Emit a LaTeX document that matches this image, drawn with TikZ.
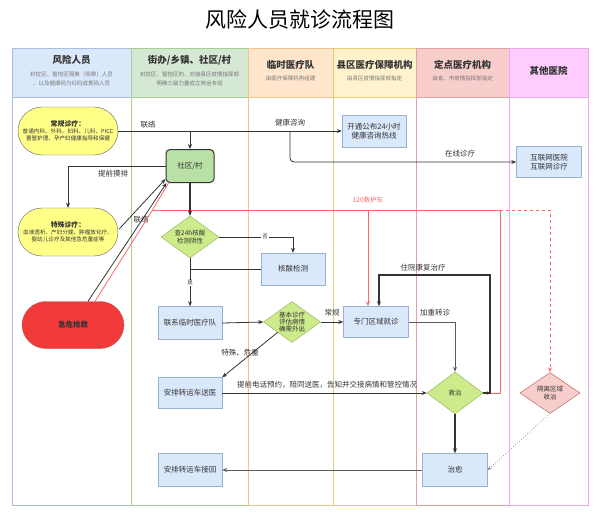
\documentclass[tikz,border=0pt]{standalone}
\usepackage{fontspec}
\setmainfont{Noto Sans CJK SC}
\usetikzlibrary{shapes.geometric,arrows.meta,calc}
\definecolor{bluef}{HTML}{DAE8FC}
\definecolor{blued}{HTML}{6C8EBF}
\definecolor{greenf}{HTML}{D5E8D4}
\definecolor{orangef}{HTML}{FFE6CC}
\definecolor{yellowf}{HTML}{FFF2CC}
\definecolor{redf}{HTML}{F8CECC}
\definecolor{redd}{HTML}{B85450}
\definecolor{pinkf}{HTML}{FFCCFF}
\definecolor{lbA}{HTML}{A9BFDD}
\definecolor{lbB}{HTML}{A9CF95}
\definecolor{lbC}{HTML}{F2C48A}
\definecolor{lbD}{HTML}{E3CF72}
\definecolor{lbE}{HTML}{E2A4A2}
\definecolor{lbF}{HTML}{EBA8EB}
\definecolor{diaf}{HTML}{CDEB8B}
\definecolor{diad}{HTML}{8FAE5A}
\definecolor{stadf}{HTML}{FFFF88}
\definecolor{sqf}{HTML}{B9E0A5}
\definecolor{emf}{HTML}{F23A3A}
\definecolor{ambul}{HTML}{FF6666}
\definecolor{ink}{HTML}{333333}
\definecolor{subt}{HTML}{777777}
\newcommand\myfs[2]{\fontsize{#1}{#2}\selectfont}
\begin{document}
\begin{tikzpicture}[x=1pt,y=-1pt,
 box/.style={rectangle, draw=blued!70, fill=bluef, minimum width=64pt, minimum height=32pt, inner sep=1pt, align=center, font=\myfs{7.5}{9}, text=ink},
 dia/.style={diamond, draw=diad, fill=diaf, inner sep=0pt},
 dtext/.style={align=center, font=\myfs{6.5}{7.5}, text=ink},
 stad/.style={rectangle, rounded corners=24pt, draw=ink!80, fill=stadf, minimum width=100pt, minimum height=48pt, align=center, inner sep=1pt, text=ink, font=\myfs{5.6}{6.8}},
 conn/.style={draw=ink, line width=0.8pt, -{Stealth[length=5pt,width=4pt]}},
 plain/.style={draw=ink, line width=0.8pt},
 redconn/.style={draw=ambul, line width=0.8pt, -{Stealth[length=5pt,width=4pt]}},
 lbl/.style={font=\myfs{7.5}{9}, text=ink, inner sep=1pt},
 htitle/.style={font=\bfseries\myfs{9.5}{11}, text=ink},
 hsub/.style={font=\myfs{5.5}{9}, text=subt, align=center},
]
\useasboundingbox[fill=white] (0,0) rectangle (600,515);
\node[font=\myfs{21}{24}, text=black] (title) at (300,19) {风险人员就诊流程图};
% lanes
\foreach \a/\b/\f/\d in {12/131/bluef/lbA, 131/248/greenf/lbB, 248/333/orangef/lbC, 333/416/yellowf/lbD, 416/509/redf/lbE, 509/588/pinkf/lbF} {
  \fill[\f] (\a,48) rectangle (\b,97);
  \draw[\d, line width=0.7pt] (\a,48) rectangle (\b,505);
  \draw[\d, line width=0.7pt] (\a,97) -- (\b,97);
}
\node[htitle] (h1) at (71.5,60) {风险人员};
\node[hsub] (h1s) at (71.5,78.5) {封控区、管控区隔离（观察）人员\\、以及健康码为红码或黄码人员};
\node[htitle] (h2) at (189.5,60) {街办/乡镇、社区/村};
\node[hsub] (h2s) at (189.5,78.5) {封控区、管控区的，对接县区疫情指挥部\\明确三级力量成立转运专班};
\node[htitle] (h3) at (290.5,65) {临时医疗队};
\node[hsub] (h3s) at (290.5,78) {由医疗保障机构组建};
\node[htitle] (h4) at (374.5,65) {县区医疗保障机构};
\node[hsub] (h4s) at (374.5,78) {由县区疫情指挥部指定};
\node[htitle] (h5) at (462.5,65) {定点医疗机构};
\node[hsub] (h5s) at (462.5,78) {由省、市疫情指挥部指定};
\node[htitle] (h6) at (548.5,71) {其他医院};
% nodes
\node[stad] (cg) at (68,131) {\textbf{\myfs{6.9}{8}常规诊疗：}\\普通内科、外科、妇科、儿科、PICC\\置管护理、孕产妇健康指导和保健};
\node[stad] (ts) at (68,232) {\textbf{\myfs{6.9}{8}特殊诊疗：}\\血液透析、产妇分娩、肿瘤放化疗、\\婴幼儿诊疗及其他急危重症等};
\node[stad, fill=emf, draw=redd, minimum width=102pt, minimum height=47pt, font=\bfseries\myfs{7.5}{9}] (jw) at (73,325) {急危抢救};
\node[rectangle, rounded corners=4pt, draw=ink, line width=1pt, fill=sqf, minimum width=48pt, minimum height=33pt, font=\myfs{7.5}{9}, text=ink] (sq) at (190,166) {社区/村};
\node[dia, minimum width=58pt, minimum height=42pt, label={[dtext]center:查24h核酸\\检测阴性}] (d1) at (190,237) {};
\node[box] (hs) at (293,269) {核酸检测};
\node[box, minimum height=33pt] (lx) at (190,323) {联系临时医疗队};
\node[dia, minimum width=57pt, minimum height=41pt, label={[dtext, font=\myfs{6.5}{7}]center:基本诊疗\\评估病情\\确需外出}] (d2) at (292,322) {};
\node[box, minimum width=65pt, minimum height=31pt] (zm) at (376,322) {专门区域就诊};
\node[box] (rx) at (374,131) {开通公布24小时\\健康咨询热线};
\node[box, minimum width=65pt, minimum height=31pt] (hl) at (549,162) {互联网医院\\互联网诊疗};
\node[box, minimum height=31pt] (zy) at (190,393) {安排转运车送医};
\node[dia, minimum width=56pt, minimum height=42pt, label={[dtext]center:救治}] (jz) at (455,393) {};
\node[diamond, draw=redd, fill=redf, inner sep=0pt, minimum width=60pt, minimum height=41pt, label={[dtext]center:隔离区域\\收治}] (gl) at (550,393) {};
\node[box, minimum height=33pt] (jh) at (190,470) {安排转运车接回};
\node[box, minimum width=65pt, minimum height=33pt] (cy) at (455,470) {治愈};
% connectors
\coordinate (b1) at (190,131);
\coordinate (b2) at (290,131);
\draw[conn] (cg.east) -- (rx.west);
\node[lbl] (l1) at (148,125) {联络};
\node[lbl] (l2) at (290,123) {健康咨询};
\draw[conn] (b1) -- (sq.north);
\draw[conn, rounded corners=4pt] (b2) -- (b2 |- hl.west) -- (hl.west);
\node[lbl] (l3) at (460,154) {在线诊疗};
\draw[conn] (sq.west) -- (sq.west -| ts.north) -- (ts.north);
\node[lbl] (l4) at (113,174) {提前摸排};
\draw[conn] ($(ts.east)+(1,-3)$) -- ($(sq.south west)+(0,-4)$);
\node[lbl] (l5) at (141,220) {联络};
\draw[conn] ($(jw.north)+(15,0)$) -- ($(sq.south west)+(1,0)$);
% 120 ambulance
\coordinate (r0) at (152.5,210);
\coordinate (r1) at (500,210);
\coordinate (r2) at (368,210);
\coordinate (r3) at (550,210);
\draw[draw=ambul, line width=0.8pt] ($(jw.north)+(22,0)$) -- (r0) -- ($(sq.south west)+(3,0)$);
\draw[redconn] (r0) -- (r1) -- (r1 |- jz.east) -- (jz.east);
\draw[redconn] (r2) -- (r2 |- zm.north);
\node[lbl, text=ambul, font=\myfs{6.5}{8}] (l6) at (368,200) {120救护车};
\draw[draw=ambul, line width=0.8pt, dashed, -{Stealth[length=5pt,width=4pt]}] (r1) -- (r3) -- (gl.north);
% flow
\draw[conn, line width=1.1pt] (sq.south) -- (d1.north);
\draw[conn] (d1.east) -- (d1.east -| hs.north) -- (hs.north);
\node[lbl, font=\myfs{5.5}{7}, fill=white] (l7) at (265,237) {否};
\draw[plain] (hs.west) -- (hs.west -| d1.south);
\draw[conn] (d1.south) -- (lx.north);
\node[lbl, font=\myfs{5.5}{7}, fill=white] (l8) at (190,283) {是};
\draw[conn] (lx.east) -- (d2.west);
\draw[conn] (d2.east) -- (zm.west);
\node[lbl] (l9) at (332,313) {常规};
\draw[conn] (d2.south west) -- (zy.north east);
\node[lbl] (l10) at (240,353) {特殊、危重};
\draw[conn] (zy.east) -- (jz.west);
\node[lbl] (l11) at (327,385) {提前电话预约，陪同送医，告知并交接病情和管控情况};
\coordinate (k1) at (490,275);
\coordinate (k2) at (379,275);
\draw[conn, line width=1.1pt] (jz.east) -- (jz.east -| k1) -- (k1) -- (k2) -- (k2 |- zm.north);
\node[lbl] (l12) at (423,268) {住院康复治疗};
\draw[conn, draw=ink!80] (zm.east) -- (zm.east -| jz.north) -- (jz.north);
\node[lbl] (l13) at (435,313) {加重转诊};
\draw[conn, line width=1.2pt] (jz.south) -- (cy.north);
\draw[conn, draw=ink!80] (cy.west) -- (jh.east);
\draw[draw=gray, line width=0.7pt, dotted, -{Stealth[length=4pt,width=3.5pt]}] (gl.south) -- (cy.east);
\end{tikzpicture}
\end{document}
